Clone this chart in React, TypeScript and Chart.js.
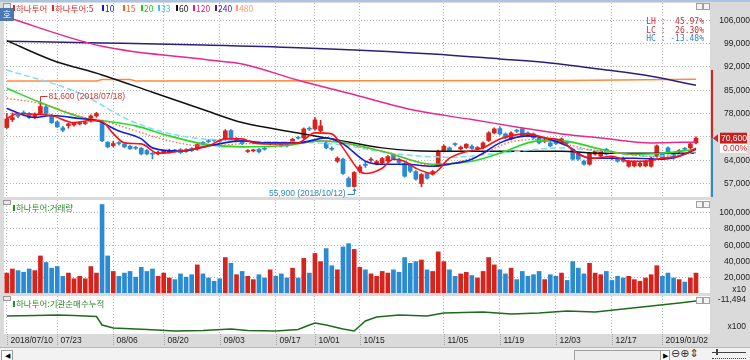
import React, { useEffect, useRef } from 'react';
import { Chart, registerables } from 'chart.js';

Chart.register(...registerables);

const dates = [
  '2018/07/10','2018/07/11','2018/07/12','2018/07/13','2018/07/16','2018/07/17','2018/07/18','2018/07/19','2018/07/20','2018/07/23',
  '2018/07/24','2018/07/25','2018/07/26','2018/07/27','2018/07/30','2018/07/31','2018/08/01','2018/08/02','2018/08/03','2018/08/06',
  '2018/08/07','2018/08/08','2018/08/09','2018/08/10','2018/08/13','2018/08/14','2018/08/16','2018/08/17','2018/08/20','2018/08/21',
  '2018/08/22','2018/08/23','2018/08/24','2018/08/27','2018/08/28','2018/08/29','2018/08/30','2018/08/31','2018/09/03','2018/09/04',
  '2018/09/05','2018/09/06','2018/09/07','2018/09/10','2018/09/11','2018/09/12','2018/09/13','2018/09/14','2018/09/17','2018/09/18',
  '2018/09/19','2018/09/20','2018/09/21','2018/09/27','2018/09/28','2018/10/01','2018/10/02','2018/10/04','2018/10/05','2018/10/08',
  '2018/10/10','2018/10/11','2018/10/12','2018/10/15','2018/10/16','2018/10/17','2018/10/18','2018/10/19','2018/10/22','2018/10/23',
  '2018/10/24','2018/10/25','2018/10/26','2018/10/29','2018/10/30','2018/10/31','2018/11/01','2018/11/02','2018/11/05','2018/11/06',
  '2018/11/07','2018/11/08','2018/11/09','2018/11/12','2018/11/13','2018/11/14','2018/11/15','2018/11/16','2018/11/19','2018/11/20',
  '2018/11/21','2018/11/22','2018/11/23','2018/11/26','2018/11/27','2018/11/28','2018/11/29','2018/11/30','2018/12/03','2018/12/04',
  '2018/12/05','2018/12/06','2018/12/07','2018/12/10','2018/12/11','2018/12/12','2018/12/13','2018/12/14','2018/12/17','2018/12/18',
  '2018/12/19','2018/12/20','2018/12/21','2018/12/24','2018/12/26','2018/12/27','2018/12/28','2019/01/02','2019/01/03','2019/01/04',
  '2019/01/07','2019/01/08','2019/01/09','2019/01/10',
];

const opens = [
  73800,76200,77600,78200,78000,76800,78000,80000,77400,75500,73700,74400,74600,74900,75000,75800,77300,75000,69400,68400,
  69200,68800,68200,67900,67600,66900,66000,65900,66200,66400,67000,67200,67200,67500,67400,69300,69800,70000,70000,70400,
  72900,69800,69500,66600,66800,67300,67600,68900,69300,69200,68800,69000,70800,70700,73500,73400,72800,69200,67500,63700,
  64300,58500,56100,60700,62800,64000,62900,63200,63800,65700,64300,63000,62600,60600,57000,60000,59800,62200,66800,67700,
  68900,67400,67800,68200,67400,67700,69900,72200,73500,71900,70400,72900,73400,72200,71900,70700,69700,69200,69800,69200,
  69300,67300,65800,63700,62800,65800,65200,67300,64700,64600,64600,62200,62300,62300,62300,62200,65200,65800,67700,65800,
  66600,67500,67700,69200,
];
const highs = [
  78000,78200,78000,78800,78300,78200,81600,80500,77800,75800,74200,75200,75400,75500,75700,77600,78400,75200,69600,69700,
  69600,69000,68500,68200,67800,67200,66300,66700,67000,67300,67300,67500,67500,67800,69000,69600,70200,70300,70300,73200,
  73200,70800,69800,67200,67300,67500,67900,69500,69600,69400,69000,70600,71200,73700,74000,76800,76000,69700,68000,65000,
  64600,59000,60600,62600,63500,64800,64000,64800,65400,66000,64600,63300,63000,60900,60000,60300,61000,67000,68600,68000,
  69200,68300,69000,68600,68100,69500,72600,73700,74000,72200,72500,73300,73700,72500,72200,71000,70300,69500,70100,70700,
  69700,67600,66100,64000,66400,67000,67000,67600,65000,64900,64900,64000,63900,63400,64000,64900,68600,66100,68000,66100,
  67200,67800,69200,71000,
];
const lows = [
  73500,75600,76800,77400,76500,76500,77800,77600,75000,73800,72600,73600,74200,74600,74700,75400,76900,69600,67700,68000,
  68500,67700,67200,67200,65600,65600,64400,65600,66000,66100,66400,66000,66300,66600,67000,68500,69300,69500,69400,70000,
  70100,69500,68700,66300,66500,66200,67000,68600,68600,68000,68000,68800,70300,70400,72900,73000,72500,67400,66900,63300,
  59700,56000,55900,60200,61800,63600,62600,62900,63500,64100,63000,58900,60300,58000,56000,58300,59500,62000,66500,66500,
  68300,67000,67500,67200,67100,67400,69600,71900,71600,70400,70100,72300,71000,71000,70400,68900,69300,68000,68700,68900,
  68800,64000,64000,62500,62500,65500,64900,65500,64100,63400,63400,61900,62000,62000,62000,61900,64900,64300,65800,64300,
  66300,67000,67400,68900,
];
const closes = [
  76400,76800,77200,78000,76800,77800,80100,78000,75300,74000,73000,74900,75100,75200,75300,77300,78000,69800,68000,69000,
  69000,68000,67400,67600,65900,65900,65800,66400,66800,66900,66800,66300,66600,66900,68700,68800,69600,69900,69700,72800,
  70400,70500,69000,66800,67000,66500,67300,69200,68900,68300,68300,70300,70600,73400,73300,76100,74300,67700,67300,64600,
  60000,56100,60300,62000,62400,64300,63600,64500,65100,64400,63300,59200,60700,58300,59700,58600,60600,66700,68200,66800,
  68700,67900,68800,67500,67800,69200,72200,73400,71900,70700,72200,72700,71300,71300,70700,69200,69900,68300,69000,70400,
  69100,64300,64300,62800,66100,66700,66700,65800,64500,63700,63700,63700,63600,63100,63700,64600,68300,64600,66100,64600,
  66900,67300,68900,70600,
];

// trading volume, in units of 10 shares
const volumes = [
  26000,31000,29000,27000,31000,29000,47000,39000,32000,34000,22000,26000,19000,22000,19000,34000,26000,110000,47000,28000,
  22000,26000,28000,21000,33000,28000,31000,22000,26000,20000,18000,25000,21000,24000,36000,25000,20000,16000,19000,45000,
  38000,24000,28000,22000,18000,24000,20000,30000,22000,25000,20000,32000,20000,44000,26000,50000,40000,56000,35000,30000,
  58000,62000,55000,33000,30000,25000,22000,28000,26000,30000,27000,45000,38000,40000,42000,30000,28000,52000,40000,30000,
  22000,25000,27000,23000,20000,28000,45000,36000,30000,25000,32000,18000,28000,22000,24000,28000,18000,24000,22000,26000,
  17000,40000,32000,25000,38000,26000,24000,28000,17000,22000,20000,22000,18000,16000,20000,24000,35000,22000,26000,20000,
  18000,15000,20000,26000,
];

// moving averages: [day index, value]
const ma5 = [[0,76500],[2,78000],[5,77800],[8,77400],[12,75300],[15,75900],[17,75600],[19,72000],[21,69200],[24,68900],[27,66100],[32,67000],[36,68300],[39,70400],[42,70400],[44,69200],[47,68900],[52,69200],[55,72200],[58,71900],[60,67700],[63,60700],[64,60000],[67,61600],[69,64300],[71,63700],[73,61600],[76,60000],[79,64600],[81,66100],[85,67700],[88,70400],[93,71900],[96,70700],[99,69800],[102,65800],[105,64600],[108,65200],[111,63700],[114,63700],[117,64600],[120,65200],[123,67600]];
const ma10 = [[0,79500],[5,76800],[8,77400],[13,76500],[16,75900],[20,72800],[24,70400],[26,67700],[31,66700],[36,68300],[42,69800],[46,69200],[52,69200],[57,70700],[60,68900],[64,63700],[67,62800],[71,62800],[76,62200],[79,62800],[83,64300],[85,66100],[88,69200],[93,71300],[96,70700],[100,68300],[104,64600],[108,64600],[112,64600],[117,64300],[120,65200],[123,67300]];
const ma15 = [[0,82600],[6,81000],[14,76800],[17,75900],[23,72800],[29,69800],[35,68300],[42,68900],[52,69200],[58,70000],[63,68000],[68,66400],[76,62500],[83,64600],[90,69500],[95,70200],[104,67200],[110,66000],[117,64900],[123,66400]];
const ma20 = [[0,85600],[6,81300],[14,76500],[17,75900],[23,74300],[29,71300],[35,68900],[42,68000],[50,68400],[56,69800],[60,69200],[67,66700],[76,62800],[83,63700],[88,66100],[95,69800],[99,69800],[106,67300],[111,65800],[117,66100],[123,67300]];
const ma33 = [[0,91100],[13,84100],[22,75900],[31,71300],[42,69800],[58,68900],[70,65800],[79,64900],[88,66100],[99,67700],[106,66700],[115,65200],[123,66100]];
const ma60 = [[0,99900],[8,94100],[17,89600],[26,84400],[35,79200],[42,75300],[52,72200],[58,70400],[67,67700],[76,66700],[83,66700],[99,66700],[106,66100],[123,66100]];
const ma120 = [[0,106900],[17,98200],[36,94100],[42,92900],[52,88000],[61,84100],[73,78900],[83,76200],[92,73700],[99,71900],[106,70700],[115,69200],[123,69500]];
const ma240 = [[0,99700],[17,99200],[35,98600],[52,97800],[76,95900],[88,94400],[97,93200],[106,91300],[115,89200],[123,86500]];
const ma480 = [[0,87800],[16,87800],[17,88200],[22,88200],[23,87800],[100,87900],[123,88300]];

// institution cumulative net buying (x100): [day index, value]
const instPts = [[0,-13000],[5,-12950],[9,-12900],[12,-12950],[16,-13050],[17,-13900],[19,-14200],[25,-14350],[30,-14500],[35,-14450],[40,-14300],[43,-14450],[48,-14500],[52,-14350],[54,-13900],[55,-13700],[57,-13900],[60,-14300],[62,-14500],[64,-13500],[66,-13100],[70,-12900],[75,-13000],[78,-12700],[85,-12600],[90,-12800],[95,-12700],[100,-12500],[105,-12600],[110,-12300],[115,-12000],[120,-11700],[123,-11494]];

const priceTicks = [57000, 64000, 71000, 78000, 85000, 92000, 99000, 106000];
const volumeTicks = [20000, 40000, 60000, 80000, 100000];
const axisDates = ['2018/07/10','2018/07/23','2018/08/06','2018/08/20','2018/09/03','2018/09/17','2018/10/01','2018/10/15','2018/11/05','2018/11/19','2018/12/03','2018/12/17','2019/01/02'];
const axisTexts = ['2018/07/10','07/23','08/06','08/20','09/03','09/17','10/01','10/15','11/05','11/19','12/03','12/17','2019/01/02'];
const rangeTop = 91100;

const FONT = '"Liberation Sans", Arial, sans-serif';
const KFONT = '"Noto Sans CJK KR", "Noto Sans", sans-serif';
const MONO = '"DejaVu Sans Mono", monospace';
const RED = '#d8231d';
const BLUE = '#2a8bd2';
const GRID = '#b4b4b4';
const AXIS_W = 40;

const slotLabels = [...dates, '', ' '];
const tickIndexSet = new Set(axisDates.map((d) => dates.indexOf(d)));
const fmt = (v: number) => Math.round(v).toLocaleString('en-US');
const candleColors = closes.map((c, i) => (c >= opens[i] ? RED : BLUE));

const maDefs = [
  { name: '5', pts: ma5, color: '#ff1010', dash: [] as number[], w: 1.6 },
  { name: '10', pts: ma10, color: '#1020d8', dash: [], w: 1.6 },
  { name: '15', pts: ma15, color: '#ff6a3a', dash: [1.5, 2], w: 1.3 },
  { name: '20', pts: ma20, color: '#22dd22', dash: [], w: 1.6 },
  { name: '33', pts: ma33, color: '#7fdcff', dash: [6, 3], w: 1.5 },
  { name: '60', pts: ma60, color: '#111111', dash: [], w: 1.5 },
  { name: '120', pts: ma120, color: '#e8288c', dash: [], w: 1.5 },
  { name: '240', pts: ma240, color: '#2c1f7a', dash: [], w: 1.5 },
  { name: '480', pts: ma480, color: '#ff8a3c', dash: [], w: 1.5 },
];

function xScale(height: number) {
  return {
    type: 'category' as const,
    offset: true,
    grid: {
      offset: false,
      drawTicks: false,
      color: (c: any) => (tickIndexSet.has(c.index) ? GRID : 'rgba(0,0,0,0)'),
    },
    border: { display: false, dash: [1, 2] },
    ticks: { display: false, autoSkip: false },
    afterFit: (s: any) => {
      s.height = height;
      s.paddingLeft = 0;
      s.paddingRight = 0;
    },
  };
}

function yScale(min: number, max: number, ticks: number[], hidden: number[] = []) {
  return {
    position: 'right' as const,
    min,
    max,
    afterBuildTicks: (s: any) => { s.ticks = ticks.map((v) => ({ value: v })); },
    afterFit: (s: any) => {
      s.width = AXIS_W;
      s.paddingTop = 0;
      s.paddingBottom = 0;
    },
    grid: { color: GRID, drawTicks: false },
    border: { display: false, dash: [1, 2] },
    ticks: {
      font: { family: FONT, size: 8.5 },
      color: '#222',
      crossAlign: 'far' as const,
      padding: 4,
      callback: (v: any) => (hidden.includes(v) ? '' : fmt(v)),
    },
  };
}

const areaBg = {
  id: 'areaBg',
  beforeDraw(chart: any) {
    const { ctx, chartArea: a } = chart;
    ctx.save();
    ctx.fillStyle = '#ffffff';
    ctx.fillRect(a.left, a.top, a.right - a.left, a.bottom - a.top);
    ctx.restore();
  },
};

const priceOverlay = {
  id: 'priceOverlay',
  afterDraw(chart: any) {
    const { ctx, chartArea: a, scales } = chart;
    const x = scales.x, y = scales.y;
    ctx.save();
    const last = closes.length - 1;
    const yCur = y.getPixelForValue(closes[last]);
    const yTop = y.getPixelForValue(rangeTop);
    ctx.fillStyle = RED;
    ctx.fillRect(a.right + 1, yTop, 2, yCur - yTop);
    ctx.fillStyle = BLUE;
    ctx.fillRect(a.right + 1, yCur, 2, a.bottom - yCur);
    ctx.fillStyle = RED;
    ctx.beginPath();
    ctx.moveTo(a.right + 3, yCur);
    ctx.lineTo(a.right + 8, yCur - 4);
    ctx.lineTo(a.right + 8, yCur + 4);
    ctx.closePath();
    ctx.fill();
    ctx.fillStyle = '#c81e1e';
    ctx.fillRect(a.right + 10, yCur - 5.5, 27, 11);
    ctx.fillStyle = '#ffffff';
    ctx.fillRect(a.right + 10, yCur + 5.5, 27, 9);
    ctx.font = `8.5px ${FONT}`;
    ctx.textAlign = 'right';
    ctx.textBaseline = 'middle';
    ctx.fillStyle = '#ffffff';
    ctx.fillText(fmt(closes[last]), a.right + 37, yCur + 0.5);
    ctx.fillStyle = '#d02020';
    ctx.fillText('0.00%', a.right + 37, yCur + 10);

    let hi = 0, lo = 0;
    highs.forEach((v, i) => { if (v > highs[hi]) hi = i; });
    lows.forEach((v, i) => { if (v < lows[lo]) lo = i; });
    const hx = Math.round(x.getPixelForValue(hi)) + 0.5;
    const hy = Math.round(y.getPixelForValue(highs[hi]));
    ctx.strokeStyle = '#c83a3a';
    ctx.lineWidth = 1;
    ctx.beginPath();
    ctx.moveTo(hx, hy - 1);
    ctx.lineTo(hx, hy - 5.5);
    ctx.lineTo(hx + 7, hy - 5.5);
    ctx.stroke();
    ctx.fillStyle = '#c83a3a';
    ctx.textAlign = 'left';
    ctx.font = `8.5px ${FONT}`;
    ctx.fillText(`${fmt(highs[hi])} (${dates[hi]})`, hx + 8, hy - 5);

    const lx = Math.round(x.getPixelForValue(lo)) + 0.5;
    const ly = Math.round(y.getPixelForValue(lows[lo]));
    ctx.strokeStyle = '#2f86c4';
    ctx.beginPath();
    ctx.moveTo(lx, ly + 2);
    ctx.lineTo(lx, ly + 7.5);
    ctx.lineTo(lx - 7, ly + 7.5);
    ctx.stroke();
    ctx.fillStyle = '#2f86c4';
    ctx.beginPath();
    ctx.moveTo(lx, ly + 1);
    ctx.lineTo(lx - 2, ly + 4);
    ctx.lineTo(lx + 2, ly + 4);
    ctx.closePath();
    ctx.fill();
    ctx.textAlign = 'right';
    ctx.fillText(`${fmt(lows[lo])} (${dates[lo]})`, lx - 9, ly + 7);
    ctx.restore();
  },
};

const volOverlay = {
  id: 'volOverlay',
  afterDraw(chart: any) {
    const { ctx, chartArea: a } = chart;
    ctx.save();
    ctx.font = `8.5px ${FONT}`;
    ctx.fillStyle = '#222';
    ctx.textAlign = 'right';
    ctx.textBaseline = 'middle';
    ctx.fillText('x10', a.right + 36, a.bottom - 3);
    ctx.restore();
  },
};

const instOverlay = {
  id: 'instOverlay',
  afterDraw(chart: any) {
    const { ctx, chartArea: a, scales } = chart;
    const x = scales.x, y = scales.y;
    ctx.save();
    ctx.font = `8.5px ${FONT}`;
    ctx.fillStyle = '#222';
    ctx.textAlign = 'right';
    ctx.textBaseline = 'middle';
    const lastVal = instPts[instPts.length - 1][1];
    ctx.fillText(fmt(lastVal), a.right + 36, y.getPixelForValue(lastVal) - 1);
    ctx.fillText('x100', a.right + 36, a.bottom - 7);
    ctx.textAlign = 'left';
    ctx.strokeStyle = '#a8a8a8';
    ctx.lineWidth = 1;
    ctx.setLineDash([1, 1]);
    axisDates.forEach((d, k) => {
      const px = Math.round(x.getPixelForValue(dates.indexOf(d))) + 0.5;
      ctx.beginPath();
      ctx.moveTo(px, a.bottom);
      ctx.lineTo(px, a.bottom + 12);
      ctx.stroke();
      ctx.fillText(axisTexts[k], px + 3, a.bottom + 7);
    });
    ctx.restore();
  },
};

const baseOptions = (padTop: number, padBottom: number) => ({
  responsive: false,
  animation: false as const,
  events: [] as any[],
  layout: { autoPadding: false, padding: { left: 4, top: padTop, right: 0, bottom: padBottom } },
  plugins: { legend: { display: false }, tooltip: { enabled: false } },
});

function makePrice(canvas: HTMLCanvasElement) {
  const lineSets = maDefs.map((m, k) => ({
    type: 'line' as const,
    label: m.name,
    data: m.pts.map(([i, v]) => ({ x: dates[i], y: v })),
    borderColor: m.color,
    borderWidth: m.w,
    borderDash: m.dash,
    pointRadius: 0,
    fill: false,
    tension: 0,
    cubicInterpolationMode: (m.name === '480' ? 'default' : 'monotone') as any,
    order: k,
  }));
  return new Chart(canvas, {
    type: 'bar',
    data: {
      labels: slotLabels,
      datasets: [
        ...lineSets,
        {
          type: 'bar' as const,
          label: 'body',
          data: opens.map((o, i) => [o, closes[i]]),
          backgroundColor: candleColors,
          barThickness: 4,
          minBarLength: 1,
          grouped: false,
          order: 19,
        },
        {
          type: 'bar' as const,
          label: 'wick',
          data: lows.map((l, i) => [l, highs[i]]),
          backgroundColor: candleColors,
          barThickness: 1,
          grouped: false,
          order: 20,
        },
      ] as any,
    },
    options: {
      ...baseOptions(3, 1),
      scales: {
        x: xScale(0) as any,
        y: yScale(52950, 111200, priceTicks, [71000]) as any,
      },
    } as any,
    plugins: [areaBg, priceOverlay],
  });
}

function makeVolume(canvas: HTMLCanvasElement) {
  return new Chart(canvas, {
    type: 'bar',
    data: {
      labels: slotLabels,
      datasets: [
        {
          label: '거래량',
          data: volumes,
          backgroundColor: candleColors,
          barThickness: 4,
        },
      ],
    },
    options: {
      ...baseOptions(2, 1),
      scales: {
        x: xScale(0) as any,
        y: { ...yScale(1600, 115500, volumeTicks), beginAtZero: false } as any,
      },
    } as any,
    plugins: [areaBg, volOverlay],
  });
}

function makeInst(canvas: HTMLCanvasElement) {
  return new Chart(canvas, {
    type: 'line',
    data: {
      labels: slotLabels,
      datasets: [
        {
          label: '기관순매수누적',
          data: instPts.map(([i, v]) => ({ x: dates[i], y: v })),
          borderColor: '#1d6b1d',
          borderWidth: 1.5,
          pointRadius: 0,
          tension: 0,
          fill: false,
        },
      ],
    },
    options: {
      ...baseOptions(2, 0),
      scales: {
        x: { ...xScale(13), offset: true } as any,
        y: { ...yScale(-14800, -11000, []), ticks: { display: false } } as any,
      },
    } as any,
    plugins: [areaBg, instOverlay],
  });
}

const legendItems = [
  { x: 13, text: '하나투어', color: '#d42a2a' },
  { x: 52, text: '하나투어:5', color: '#d42a2a' },
  { x: 102, text: '10', color: '#1a1ad0' },
  { x: 123, text: '15', color: '#ff5a2a' },
  { x: 141, text: '20', color: '#1ec81e' },
  { x: 158, text: '33', color: '#3cc4ec' },
  { x: 176, text: '60', color: '#111111' },
  { x: 193, text: '120', color: '#e0207f' },
  { x: 215, text: '240', color: '#4a2390' },
  { x: 236, text: '480', color: '#ff9a66' },
];

function Header({ x, y, text, color }: { x: number; y: number; text: string; color: string }) {
  return (
    <div style={{ position: 'absolute', left: x, top: y, font: `8.5px ${KFONT}`, lineHeight: '12px', color, whiteSpace: 'nowrap' }}>
      <span style={{ display: 'inline-block', width: 2, height: 6, background: color, marginRight: 1, verticalAlign: 'middle', position: 'relative', top: -1 }} />
      {text}
    </div>
  );
}

function PanelButtons({ top }: { top: number }) {
  const box = (left: number) => (
    <div style={{ position: 'absolute', left, top, width: 5, height: 5, border: '1px solid #a0a0a0', background: '#f4f4f4' }} />
  );
  return (
    <>
      {box(696)}
      {box(703)}
    </>
  );
}

export default function App() {
  const priceRef = useRef<HTMLCanvasElement>(null);
  const volRef = useRef<HTMLCanvasElement>(null);
  const instRef = useRef<HTMLCanvasElement>(null);

  useEffect(() => {
    const charts = [
      makePrice(priceRef.current as HTMLCanvasElement),
      makeVolume(volRef.current as HTMLCanvasElement),
      makeInst(instRef.current as HTMLCanvasElement),
    ];
    return () => charts.forEach((c) => c.destroy());
  }, []);

  return (
    <div style={{ position: 'fixed', left: 0, top: 0, width: 750, height: 360, background: '#dadada', overflow: 'hidden' }}>
      <div style={{ position: 'absolute', left: 0, top: 0, width: 750, height: 2, background: '#a9c4e4' }} />
      <canvas ref={priceRef} width={750} height={198} style={{ position: 'absolute', left: 0, top: 0 }} />
      <canvas ref={volRef} width={750} height={96} style={{ position: 'absolute', left: 0, top: 198 }} />
      <canvas ref={instRef} width={750} height={53} style={{ position: 'absolute', left: 0, top: 294 }} />

      <div style={{ position: 'absolute', left: 3, top: 3, width: 6, height: 4, border: '1px solid #9a9a9a', background: '#e8e8e8' }} />
      <div style={{ position: 'absolute', left: 0, top: 8, width: 14, height: 13, background: '#4a78b0', color: '#fff', font: `9px ${KFONT}`, lineHeight: '13px', textAlign: 'center' }}>호</div>
      {legendItems.map((it) => (
        <Header key={it.text} x={it.x} y={1.5} text={it.text} color={it.color} />
      ))}
      <PanelButtons top={3} />
      <div style={{ position: 'absolute', left: 640, top: 18, width: 64, font: `8px ${MONO}`, lineHeight: '8.5px', textAlign: 'right', whiteSpace: 'pre' }}>
        <div style={{ color: '#c83030' }}>{'LH :  45.97%'}</div>
        <div style={{ color: '#c83030' }}>{'LC :  26.30%'}</div>
        <div style={{ color: '#2f86c4' }}>{'HC : -13.48%'}</div>
      </div>

      <div style={{ position: 'absolute', left: 3, top: 200, width: 6, height: 3, border: '1px solid #9a9a9a', background: '#e8e8e8' }} />
      <Header x={13} y={201} text="하나투어:거래량" color="#2b8a2b" />
      <PanelButtons top={201} />

      <div style={{ position: 'absolute', left: 3, top: 296, width: 6, height: 3, border: '1px solid #9a9a9a', background: '#e8e8e8' }} />
      <Header x={13} y={297} text="하나투어:기관순매수누적" color="#2b8a2b" />
      <PanelButtons top={297} />

      <div style={{ position: 'absolute', left: 0, top: 347, width: 750, height: 13, background: '#f2f2f2', borderTop: '1px solid #9fbbd8' }} />
      <div style={{ position: 'absolute', left: 1, top: 350, width: 10, height: 9, border: '1px solid #a0a0a0', background: '#fff', font: `7px ${FONT}`, lineHeight: '9px', textAlign: 'center' }}>◀</div>
      <div style={{ position: 'absolute', left: 574, top: 350, width: 85, height: 9, border: '1px solid #a0a0a0', background: '#ececec' }} />
      <div style={{ position: 'absolute', left: 660, top: 350, width: 8, height: 9, border: '1px solid #a0a0a0', background: '#fff', font: `7px ${FONT}`, lineHeight: '9px', textAlign: 'center' }}>▶</div>
      <div style={{ position: 'absolute', left: 671, top: 347, font: `11px "DejaVu Sans"`, lineHeight: '13px', color: '#333', whiteSpace: 'nowrap' }}>⊖⊕⇕</div>
      <div style={{ position: 'absolute', left: 712, top: 352, width: 34, height: 1, background: '#444' }} />
      <div style={{ position: 'absolute', left: 716, top: 349, width: 2, height: 6, background: '#444' }} />
      <div style={{ position: 'absolute', left: 712, top: 356, width: 34, height: 2, borderBottom: '1px dotted #444' }} />
    </div>
  );
}
